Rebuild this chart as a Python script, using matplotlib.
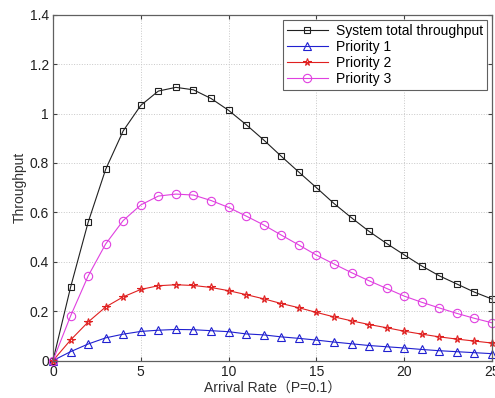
import matplotlib
matplotlib.use("Agg")
import matplotlib.pyplot as plt

plt.rcParams['font.family'] = ['Liberation Sans', 'Noto Sans CJK SC', 'DejaVu Sans']

x = list(range(0, 26))
total = [0.0, 0.296, 0.559, 0.774, 0.930, 1.033, 1.091, 1.106, 1.096, 1.061, 1.013,
         0.955, 0.893, 0.827, 0.763, 0.700, 0.636, 0.578, 0.523, 0.474, 0.428,
         0.383, 0.343, 0.310, 0.277, 0.249]
p1 = [0.0, 0.036, 0.067, 0.092, 0.107, 0.118, 0.123, 0.126, 0.125, 0.121, 0.117,
      0.108, 0.104, 0.096, 0.090, 0.083, 0.075, 0.068, 0.061, 0.056, 0.051,
      0.045, 0.040, 0.036, 0.032, 0.028]
p2 = [0.0, 0.083, 0.156, 0.217, 0.258, 0.288, 0.303, 0.307, 0.304, 0.296, 0.283,
      0.267, 0.250, 0.231, 0.214, 0.195, 0.177, 0.161, 0.146, 0.133, 0.119,
      0.107, 0.096, 0.087, 0.079, 0.071]
p3 = [0.0, 0.180, 0.342, 0.472, 0.567, 0.630, 0.666, 0.674, 0.670, 0.648, 0.620,
      0.585, 0.549, 0.508, 0.468, 0.427, 0.391, 0.356, 0.323, 0.292, 0.261,
      0.236, 0.213, 0.191, 0.171, 0.153]
labels = ['System total throughput', 'Priority 1', 'Priority 2', 'Priority 3']
xticks = [0, 5, 10, 15, 20, 25]
yticks = [0, 0.2, 0.4, 0.6, 0.8, 1.0, 1.2, 1.4]
yticklabels = ['0', '0.2', '0.4', '0.6', '0.8', '1', '1.2', '1.4']

fig = plt.figure(figsize=(4.95, 3.98), dpi=100)
ax = fig.add_axes([0.107, 0.094, 0.887, 0.869])

lw = 0.8
kw = dict(lw=lw, mfc='none', mew=0.8, clip_on=False)
ax.plot(x, total, color='#202020', marker='s', ms=4.8, label=labels[0], **kw)
ax.plot(x, p1, color='#2020d0', marker='^', ms=5.8, label=labels[1], **kw)
ax.plot(x, p2, color='#e02020', marker='*', ms=5.5, label=labels[2], **kw)
ax.plot(x, p3, color='#e040e0', marker='o', ms=6, label=labels[3], **kw)

ax.set_xlim(0, 25)
ax.set_ylim(0, 1.4)
ax.set_xticks(xticks)
ax.set_yticks(yticks)
ax.set_yticklabels(yticklabels)
ax.grid(True, linestyle=':', color='#c8c8c8', lw=0.7)
ax.tick_params(direction='in', top=True, right=True, labelsize=10, length=3,
               colors='#404040', labelcolor='#202020', pad=3)
for s in ax.spines.values():
    s.set_color('#606060')
    s.set_linewidth(0.9)

ax.set_xlabel('Arrival Rate（P=0.1）', fontsize=10, color='#303030', labelpad=2)
ax.set_ylabel('Throughput', fontsize=10, color='#303030', labelpad=2)

leg = ax.legend(loc='upper right', fontsize=10, fancybox=False, framealpha=1,
                edgecolor='#606060', borderpad=0.3, labelspacing=0.15,
                handlelength=2.9, handletextpad=0.6, borderaxespad=0.35)
leg.get_frame().set_linewidth(0.8)

fig.savefig('out.png', dpi=100)
